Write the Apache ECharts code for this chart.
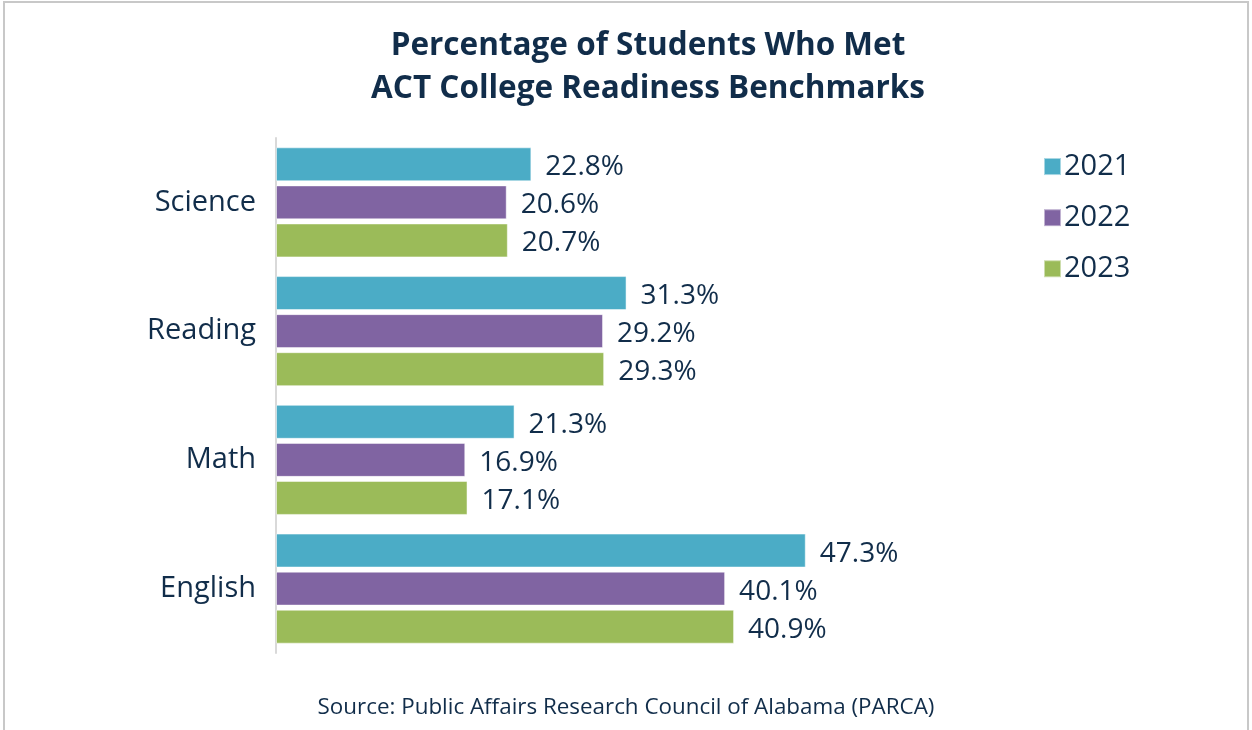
<html>

<head>
    <script src="https://cdn.jsdelivr.net/npm/echarts@6/dist/echarts.min.js"></script>
    <style>
        body {
            margin: 0;
            background: #fff;
        }

        #frame {
            position: absolute;
            left: 3px;
            top: 1px;
            width: 1246px;
            height: 760px;
            border: 2px solid #c8c8c8;
            box-sizing: border-box;
        }

        #myChart {
            position: absolute;
            left: 0;
            top: 0;
            width: 1252px;
            height: 730px;
        }
    </style>
</head>

<body>
    <div id="frame"></div>
    <div id="myChart"></div>
    <script>
        var categories = ['Science', 'Reading', 'Math', 'English'];
        var years = ['2021', '2022', '2023'];
        var v2021 = [22.8, 31.3, 21.3, 47.3];
        var v2022 = [20.6, 29.2, 16.9, 40.1];
        var v2023 = [20.7, 29.3, 17.1, 40.9];
        var colors = ['#4BACC6', '#8064A2', '#9BBB59'];

        var textColor = '#112d4a';
        var font = '"Open Sans", sans-serif';

        var myChart = echarts.init(document.getElementById('myChart'));

        function barSeries(name, values, color) {
            return {
                name: name,
                type: 'bar',
                data: values,
                barGap: '12%',
                barCategoryGap: '14.5%',
                itemStyle: {
                    color: color,
                    borderColor: 'rgba(255,255,255,0.5)',
                    borderWidth: 1
                },
                label: {
                    show: true,
                    position: 'right',
                    distance: 14,
                    offset: [0, 3],
                    formatter: function (p) {
                        return p.value.toFixed(1) + '%';
                    },
                    color: textColor,
                    fontFamily: font,
                    fontSize: 28
                }
            };
        }

        var option = {
            animation: false,
            title: {
                text: 'Percentage of Students Who Met\nACT College Readiness Benchmarks',
                left: 643,
                textAlign: 'center',
                top: 20,
                textStyle: {
                    color: textColor,
                    fontFamily: font,
                    fontWeight: 'bold',
                    fontSize: 31.5,
                    lineHeight: 43
                }
            },
            legend: {
                orient: 'vertical',
                left: 1038,
                top: 138,
                itemWidth: 17,
                itemHeight: 17,
                itemGap: 4,
                icon: 'rect',
                data: years,
                textStyle: {
                    color: textColor,
                    fontFamily: font,
                    fontSize: 29,
                    lineHeight: 29,
                    padding: [0, 0, 0, -2]
                }
            },
            grid: {
                left: 276,
                top: 138,
                bottom: 77,
                width: 672
            },
            xAxis: {
                type: 'value',
                min: 0,
                max: 60,
                show: false
            },
            yAxis: {
                type: 'category',
                inverse: true,
                data: categories,
                axisLine: {
                    lineStyle: {
                        color: '#d9d9d9',
                        width: 2
                    }
                },
                axisTick: {
                    show: false
                },
                axisLabel: {
                    margin: 20,
                    color: textColor,
                    fontFamily: font,
                    fontSize: 29
                }
            },
            graphic: [{
                type: 'text',
                left: 'center',
                top: 689,
                style: {
                    text: 'Source: Public Affairs Research Council of Alabama (PARCA)',
                    fill: textColor,
                    font: '22.4px ' + font
                }
            }],
            series: [
                barSeries('2021', v2021, colors[0]),
                barSeries('2022', v2022, colors[1]),
                barSeries('2023', v2023, colors[2])
            ]
        };

        myChart.setOption(option);
    </script>
</body>

</html>
